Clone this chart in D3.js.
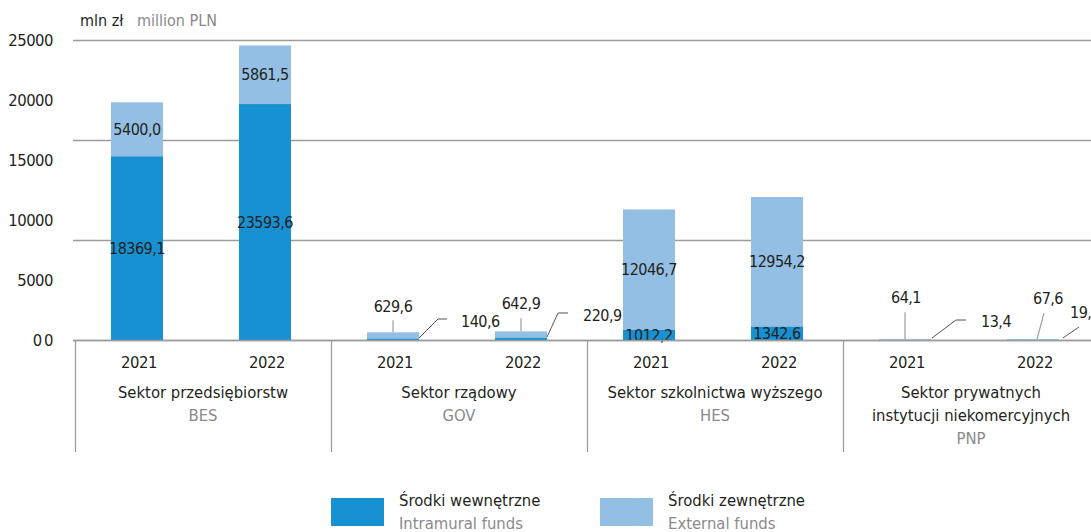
<!doctype html>
<html>
  <head>
    <meta charset="utf-8">
    <script src="https://d3js.org/d3.v7.min.js"></script>
    <style>
      body { margin: 0; background: #fff; }
      text { font-family: "Liberation Sans Narrow", "DejaVu Sans Condensed", "Arial Narrow", sans-serif; font-stretch: condensed; }
      .num { letter-spacing: -0.5px; }
    </style>
  </head>
  <body>
    <script>
      // ---- data ----
      var sectorNames  = [["Sektor przedsiębiorstw"], ["Sektor rządowy"], ["Sektor szkolnictwa wyższego"], ["Sektor prywatnych", "instytucji niekomercyjnych"]];
      var sectorCodes  = ["BES", "GOV", "HES", "PNP"];
      var years        = ["2021", "2022"];
      var intramural   = [18369.1, 23593.6, 140.6, 220.9, 1012.2, 1342.6, 13.4, 19.1];
      var external     = [5400.0, 5861.5, 629.6, 642.9, 12046.7, 12954.2, 64.1, 67.6];
      var yTickLabels  = ["0\u20090", "5000", "10000", "15000", "20000", "25000"];

      // ---- layout ----
      var width = 1091, height = 532;
      var plotTop = 40, base = 340, left = 75;
      var barW = 52;
      var dark = "#1791d1", light = "#94bfe4", grid = "#9d9d9d";
      var ink = "#231f20", grey = "#8a8a8a";
      var fs = 16.5, fsNum = 16;

      // callout leaders for the thin bars (pixel offsets, styling only)
      var extCallout = {
        2: { pts: [[0, 0], [0, -12]], txt: [0, -26] },
        3: { pts: [[0, 0], [0, -13]], txt: [0, -28] },
        6: { pts: [[0, 0], [0, -27]], txt: [1, -42] },
        7: { pts: [[4, 0], [11, -26]], txt: [15, -41] }
      };
      var intCallout = {
        2: { pts: [[0, -2], [19, -21], [28, -21]], txt: [42, -19] },
        3: { pts: [[0, -3], [11, -27], [21, -27]], txt: [36, -25] },
        6: { pts: [[1, -2], [25, -20], [35, -20]], txt: [50, -19] },
        7: { pts: [[4, -2], [20, -13]], txt: [11, -28] }
      };

      var svg = d3.select("body").append("svg")
        .attr("width", width).attr("height", height);

      var x0 = d3.scaleBand().domain(sectorCodes).range([left, left + 256 * 4]);
      var x1 = d3.scaleBand().domain(years).range([0, x0.bandwidth()]);
      var y  = d3.scaleLinear().domain([0, 30000]).range([base, plotTop]);
      var yLab = d3.scalePoint().domain(yTickLabels).range([base, plotTop]);

      var rows = [];
      sectorCodes.forEach(function(s, i) {
        years.forEach(function(yr, j) {
          var k = i * 2 + j;
          rows.push({ k: k, sector: s, year: yr, intra: intramural[k], ext: external[k] });
        });
      });
      var barX = function(d) { return x0(d.sector) + x1(d.year) + (x1.bandwidth() - barW) / 2 - 2; };

      // title
      svg.append("text").attr("x", 80).attr("y", 26).attr("font-size", 16).attr("fill", ink).text("mln zł");
      svg.append("text").attr("x", 137).attr("y", 26).attr("font-size", 16).attr("fill", grey).text("million PLN");

      // gridlines
      svg.append("g").selectAll("line")
        .data(y.ticks(3))
        .enter().append("line")
          .attr("x1", 73).attr("x2", width)
          .attr("y1", function(d) { return Math.round(y(d)) + 0.5; })
          .attr("y2", function(d) { return Math.round(y(d)) + 0.5; })
          .attr("stroke", grid).attr("stroke-width", 1.3);

      // y labels
      svg.append("g").selectAll("text")
        .data(yTickLabels)
        .enter().append("text")
          .attr("class", "num")
          .attr("x", 53).attr("y", function(d) { return yLab(d); })
          .attr("dy", "0.35em").attr("text-anchor", "end")
          .attr("font-size", fs).attr("fill", ink)
          .text(function(d) { return d; });

      // bars
      var bars = svg.append("g").selectAll("g").data(rows).enter().append("g");
      bars.append("rect")
        .attr("x", barX).attr("width", barW)
        .attr("y", function(d) { return y(d.intra + d.ext); })
        .attr("height", function(d) { return y(d.intra) - y(d.intra + d.ext); })
        .attr("fill", light);
      bars.append("rect")
        .attr("x", barX).attr("width", barW)
        .attr("y", function(d) { return y(d.intra); })
        .attr("height", function(d) { return base - y(d.intra); })
        .attr("fill", dark);

      var fmt = function(v) { return d3.format(".1f")(v).replace(".", ","); };

      // value labels inside big bars
      rows.filter(function(d) { return !extCallout[d.k]; }).forEach(function(d) {
        var cx = barX(d) + barW / 2;
        svg.append("text").attr("class", "num").attr("x", cx).attr("y", (y(0) + y(d.intra)) / 2)
          .attr("dy", "0.35em").attr("text-anchor", "middle")
          .attr("font-size", fsNum).attr("fill", ink).text(fmt(d.intra));
        svg.append("text").attr("class", "num").attr("x", cx).attr("y", (y(d.intra) + y(d.intra + d.ext)) / 2)
          .attr("dy", "0.35em").attr("text-anchor", "middle")
          .attr("font-size", fsNum).attr("fill", ink).text(fmt(d.ext));
      });

      // callouts for thin bars
      var line = d3.line();
      rows.filter(function(d) { return extCallout[d.k]; }).forEach(function(d) {
        var cx = barX(d) + barW / 2, ty = y(d.intra + d.ext);
        var e = extCallout[d.k];
        svg.append("path")
          .attr("d", line(e.pts.map(function(p) { return [cx + p[0], ty + p[1]]; })))
          .attr("fill", "none").attr("stroke", grid).attr("stroke-width", 1.2);
        svg.append("text").attr("class", "num").attr("x", cx + e.txt[0]).attr("y", ty + e.txt[1])
          .attr("dy", "0.35em").attr("text-anchor", "middle")
          .attr("font-size", fsNum).attr("fill", ink).text(fmt(d.ext));

        var rx = barX(d) + barW, by = y(0);
        var c = intCallout[d.k];
        svg.append("path")
          .attr("d", line(c.pts.map(function(p) { return [rx + p[0], by + p[1]]; })))
          .attr("fill", "none").attr("stroke", "#555").attr("stroke-width", 1);
        svg.append("text").attr("class", "num").attr("x", rx + c.txt[0]).attr("y", by + c.txt[1])
          .attr("dy", "0.35em").attr("text-anchor", "start")
          .attr("font-size", fsNum).attr("fill", ink).text(fmt(d.intra));
      });

      // baseline
      svg.append("line").attr("x1", 73).attr("x2", width)
        .attr("y1", base + 0.5).attr("y2", base + 0.5)
        .attr("stroke", grid).attr("stroke-width", 1.3);

      // category separators
      svg.append("g").selectAll("line")
        .data(sectorCodes)
        .enter().append("line")
          .attr("x1", function(d) { return x0(d) + 0.5; })
          .attr("x2", function(d) { return x0(d) + 0.5; })
          .attr("y1", base).attr("y2", 452)
          .attr("stroke", grid).attr("stroke-width", 1.3);

      // year labels
      rows.forEach(function(d) {
        svg.append("text").attr("class", "num").attr("x", x0(d.sector) + x1(d.year) + x1.bandwidth() / 2)
          .attr("y", 362).attr("dy", "0.35em").attr("text-anchor", "middle")
          .attr("font-size", fs).attr("fill", ink).text(d.year);
      });

      // sector labels
      sectorCodes.forEach(function(s, i) {
        var cx = x0(s) + x0.bandwidth() / 2;
        var g = svg.append("g");
        sectorNames[i].forEach(function(t, j) {
          g.append("text").attr("x", cx).attr("y", 392 + j * 23.5)
            .attr("dy", "0.35em").attr("text-anchor", "middle")
            .attr("font-size", fs).attr("fill", ink).text(t);
        });
        g.append("text").attr("x", cx).attr("y", 392 + sectorNames[i].length * 23)
          .attr("dy", "0.35em").attr("text-anchor", "middle")
          .attr("font-size", fs).attr("fill", grey).text(s);
      });

      // legend
      var legend = [
        { pl: "Środki wewnętrzne", en: "Intramural funds", col: dark, x: 331 },
        { pl: "Środki zewnętrzne", en: "External funds", col: light, x: 600 }
      ];
      var lg = svg.append("g").selectAll("g").data(legend).enter().append("g")
        .attr("transform", function(d) { return "translate(" + d.x + ",0)"; });
      lg.append("rect").attr("x", 0).attr("y", 498).attr("width", 53).attr("height", 28)
        .attr("fill", function(d) { return d.col; });
      lg.append("text").attr("x", 68).attr("y", 500).attr("dy", "0.35em")
        .attr("font-size", fs).attr("fill", ink).text(function(d) { return d.pl; });
      lg.append("text").attr("x", 68).attr("y", 523).attr("dy", "0.35em")
        .attr("font-size", fs).attr("fill", grey).text(function(d) { return d.en; });
    </script>
  </body>
</html>
